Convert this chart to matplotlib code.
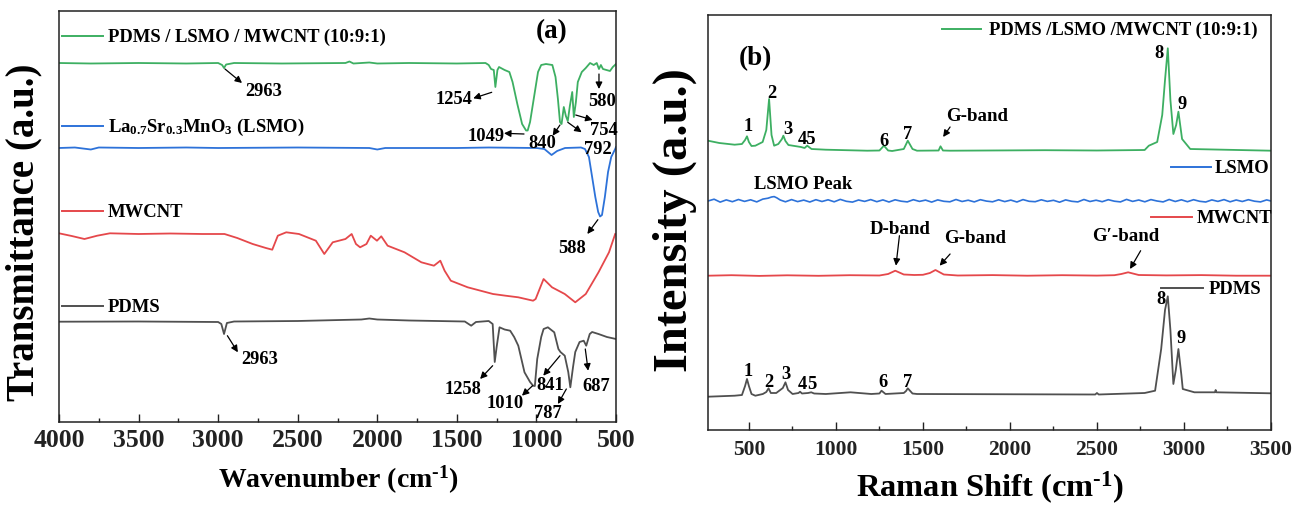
import matplotlib
matplotlib.use('Agg')
import matplotlib.pyplot as plt
from matplotlib.ticker import MultipleLocator

plt.rcParams['font.family'] = ['Liberation Serif', 'DejaVu Serif']
plt.rcParams['font.weight'] = 'bold'
plt.rcParams['mathtext.fontset'] = 'custom'
plt.rcParams['mathtext.rm'] = 'Liberation Serif:bold'
plt.rcParams['mathtext.bf'] = 'Liberation Serif:bold'
plt.rcParams['mathtext.it'] = 'Liberation Serif:bold'

# ---------------- data: panel (a) FTIR ----------------
ftir_comp_wn = [4000, 3800, 3500, 3200, 3000, 2975, 2963, 2950, 2900, 2600, 2200, 2175, 2150, 2050,
                2000, 1800, 1500, 1320, 1300, 1285, 1268, 1258, 1245, 1235, 1200, 1170, 1150, 1120,
                1090, 1065, 1055, 1040, 1010, 990, 970, 940, 900, 880, 865, 852, 842, 828, 815, 803,
                790, 775, 765, 752, 740, 715, 690, 663, 640, 621, 607, 595, 582, 560, 538, 520, 500]
ftir_comp_t = [359, 358.5, 359, 358.5, 359, 357, 354, 357.5, 359, 358.5, 359, 360.5, 358.5, 359.5,
               358.5, 359, 358.5, 359, 357, 353, 352, 335, 352, 355, 352, 350, 340, 318,
               298, 291.5, 291.5, 300, 330, 350, 357, 358, 357, 345, 323, 300, 298, 315, 306, 301,
               316, 330, 305, 320, 340, 350, 354, 359, 357, 359, 353, 357, 353, 352, 351, 355, 358]

ftir_lsmo_wn = [4000, 3900, 3800, 3750, 3500, 3200, 3000, 2500, 2050, 2000, 1950, 1500, 1300, 1000,
                950, 905, 870, 820, 720, 695, 670, 650, 630, 612, 600, 588, 570, 550, 530, 505, 500]
ftir_lsmo_t = [274, 274.5, 272.5, 274.5, 274, 274.5, 274, 274.5, 274, 272.5, 274, 274, 274.5, 274,
               273, 267, 271, 274, 274.5, 273, 265, 245, 225, 210, 205.5, 207, 225, 250, 265, 273, 275]

ftir_cnt_wn = [4000, 3920, 3840, 3760, 3680, 3500, 3300, 3100, 2960, 2880, 2783, 2700, 2660, 2625,
               2572, 2492, 2386, 2333, 2280, 2200, 2161, 2134, 2108, 2068, 2041, 2002, 1975, 1935,
               1829, 1723, 1644, 1604, 1577, 1538, 1432, 1273, 1194, 1114, 1021, 1005, 955, 902,
               822, 756, 690, 610, 544, 505]
ftir_cnt_t = [188.7, 186, 183, 186.3, 188.7, 188, 188.5, 188, 188, 184, 178, 174, 172.3, 186.3,
              189.7, 188, 181.3, 168, 179.7, 183, 188, 178, 174.7, 178, 186.3, 181.3, 185.7, 176.3,
              169.7, 159.7, 156.3, 161.3, 151.3, 141.3, 134.7, 128, 126.3, 124.7, 121.3, 123, 143, 134.7,
              128, 119.7, 128, 149.7, 169.7, 188]

ftir_pdms_wn = [4000, 3500, 3000, 2980, 2963, 2945, 2900, 2500, 2100, 2050, 2000, 1800, 1450, 1410,
                1380, 1300, 1275, 1262, 1250, 1232, 1200, 1165, 1140, 1114, 1075, 1040, 1021, 1010,
                995, 970, 955, 928, 888, 862, 849, 822, 800, 787, 770, 756, 729, 703, 687, 665, 650,
                610, 557, 500]
ftir_pdms_t = [100.3, 100.5, 100, 98, 88, 99, 100.5, 101, 102.5, 103.5, 102.5, 101.5, 100.5, 96.3,
               100, 101, 98, 60, 75, 94.7, 92.5, 91.3, 85, 76.3, 49.7, 40, 36.3, 36,
               63, 85, 93, 94.7, 89.7, 73, 70, 66.3, 50, 34.7, 55, 70, 80, 81.3, 76.3, 88, 90,
               88, 85, 83]

# ---------------- data: panel (b) Raman ----------------
raman_comp_x = [265, 330, 418, 460, 478, 489, 500, 515, 537, 579, 600, 616, 630, 645, 669, 690, 698,
                710, 727, 763, 799, 820, 835, 860, 942, 1180, 1250, 1276, 1300, 1323, 1390, 1413,
                1440, 1466, 1590, 1601, 1615, 1656, 2200, 2500, 2774, 2798, 2846, 2875, 2891, 2907,
                2922, 2939, 2955, 2968, 2989, 3036, 3500]
raman_comp_y = [289.3, 287, 285.3, 286, 290, 293.7, 288, 284, 284.3, 288, 300, 331, 295, 284.3, 286, 291,
                294.3, 289, 285, 284, 283, 282, 284.3, 281, 280.3, 279.3, 279.5, 284.3, 279.5, 279, 281,
                289.3, 281, 279.3, 279.5, 283.7, 279.5, 279.3, 279.8, 279.5, 280, 284.3, 288, 315, 350,
                381.7, 330, 296, 305, 318.3, 291, 281, 279.3]

raman_lsmo_x = [265, 300, 335, 370, 405, 440, 475, 510, 545, 580, 610, 630, 645, 660, 680, 710, 745,
                780, 815, 850, 885, 920, 955, 990, 1025, 1060, 1095, 1130, 1165, 1200, 1235, 1270,
                1305, 1340, 1375, 1410, 1445, 1480, 1515, 1550, 1585, 1620, 1655, 1690, 1725, 1760,
                1795, 1830, 1865, 1900, 1935, 1970, 2005, 2040, 2075, 2110, 2145, 2180, 2215, 2250,
                2285, 2320, 2355, 2390, 2425, 2460, 2495, 2530, 2565, 2600, 2635, 2670, 2705, 2740,
                2775, 2810, 2845, 2880, 2915, 2950, 2985, 3020, 3055, 3090, 3125, 3160, 3195, 3230,
                3265, 3300, 3335, 3370, 3405, 3440, 3475, 3500]
raman_lsmo_y = [229.0, 230.8, 227.9, 230.1, 228.3, 230.5, 228.6, 230.2, 228.1, 230.9, 231.8, 233.0,
                233.4, 232.2, 230.0, 228.2, 230.4, 228.4, 229.9, 228.0, 230.3, 228.5, 230.2, 228.2,
                230.6, 228.7, 227.9, 230.0, 228.6, 230.4, 228.3, 230.1, 228.0, 230.2, 228.8, 228.1,
                230.3, 228.6, 229.9, 227.9, 230.1, 228.7, 228.2, 230.5, 228.5, 229.8, 228.1, 230.3,
                228.9, 228.2, 230.2, 228.4, 229.9, 228.0, 230.4, 228.7, 228.3, 230.2, 228.6, 229.7,
                227.8, 230.1, 228.7, 228.1, 230.5, 228.5, 229.8, 228.3, 230.3, 228.8, 228.1, 230.6,
                228.6, 230.0, 228.2, 230.4, 229.0, 228.1, 230.5, 228.5, 230.2, 228.3, 230.3, 228.7,
                228.0, 230.1, 228.6, 230.4, 228.2, 230.0, 228.5, 230.3, 228.8, 228.1, 230.1, 229.0]

raman_cnt_x = [265, 400, 560, 720, 900, 1080, 1250, 1300, 1341, 1390, 1450, 1500, 1540, 1572, 1620,
               1700, 1900, 2100, 2300, 2500, 2600, 2640, 2679, 2740, 2900, 3100, 3300, 3500]
raman_cnt_y = [154.3, 154.8, 154.1, 154.7, 154.2, 154.8, 154.5, 156, 159.3, 155.5, 155, 155.2, 157,
               160, 155.5, 154.5, 154.9, 154.3, 154.8, 154.4, 154.8, 156, 157.7, 155, 154.6, 154.9,
               154.3, 154.3]

raman_pdms_x = [265, 418, 460, 478, 489, 500, 515, 537, 580, 600, 613, 626, 657, 695, 710, 725, 751,
                785, 794, 805, 840, 858, 875, 942, 1084, 1203, 1250, 1262, 1285, 1390, 1403, 1413,
                1440, 1466, 2490, 2500, 2510, 2774, 2834, 2869, 2891, 2907, 2922, 2939, 2953, 2968,
                2985, 2993, 3060, 3178, 3182, 3186, 3500]
raman_pdms_y = [33.3, 34.3, 35, 44, 51, 44, 36, 34.3, 36, 38, 41.7, 37, 37, 42, 47.7, 40, 36, 37,
                38.3, 36.5, 37, 37.7, 36.5, 36, 37.7, 36, 36.5, 39.3, 36, 37, 39, 41.7, 36.5, 36,
                35.5, 37, 35.5, 37, 39.3, 81, 120, 133.7, 100, 46, 60, 81, 55, 41, 37.7, 37.7, 40,
                37.7, 36.7]

ftir_ticks = [4000, 3500, 3000, 2500, 2000, 1500, 1000, 500]
raman_ticks = [500, 1000, 1500, 2000, 2500, 3000, 3500]

ftir_labels = ['PDMS / LSMO / MWCNT (10:9:1)', r'La$_{0.7}$Sr$_{0.3}$MnO$_3$ (LSMO)', 'MWCNT', 'PDMS']
raman_labels = ['PDMS /LSMO /MWCNT (10:9:1)', 'LSMO', 'MWCNT', 'PDMS']

# ---------------- styling ----------------
C_GREEN = '#3daf62'
C_BLUE = '#2d72d9'
C_RED = '#e5484b'
C_GRAY = '#505050'
W, H = 1309, 506

fig = plt.figure(figsize=(W / 100, H / 100), dpi=100)
axA = fig.add_axes([59 / W, 1 - 423 / H, 557 / W, 411 / H])
axB = fig.add_axes([708 / W, 1 - 431 / H, 563 / W, 415 / H])

for ax in (axA, axB):
    for s in ax.spines.values():
        s.set_linewidth(1.1)
        s.set_color('#222222')
    ax.set_yticks([])
    ax.xaxis.set_minor_locator(MultipleLocator(250))
    ax.tick_params(axis='x', which='major', direction='in', length=6, width=1, colors='#222222')
    ax.tick_params(axis='x', which='minor', direction='in', length=3, width=1, colors='#222222')

lw = 1.3
axA.plot(ftir_comp_wn, ftir_comp_t, color=C_GREEN, lw=lw)
axA.plot(ftir_lsmo_wn, ftir_lsmo_t, color=C_BLUE, lw=lw)
axA.plot(ftir_cnt_wn, ftir_cnt_t, color=C_RED, lw=lw)
axA.plot(ftir_pdms_wn, ftir_pdms_t, color=C_GRAY, lw=lw)
axA.set_xlim(4000, 500)
axA.set_ylim(0, 411)
axA.set_xticks(ftir_ticks)
axA.set_xticklabels([str(t) for t in ftir_ticks], fontsize=18.5, fontweight='bold')
axA.tick_params(axis='x', which='major', pad=4.5)

axB.plot(raman_comp_x, raman_comp_y, color=C_GREEN, lw=lw)
axB.plot(raman_lsmo_x, raman_lsmo_y, color=C_BLUE, lw=1.2)
axB.plot(raman_cnt_x, raman_cnt_y, color=C_RED, lw=lw)
axB.plot(raman_pdms_x, raman_pdms_y, color=C_GRAY, lw=lw)
axB.set_xlim(265, 3500)
axB.set_ylim(0, 415)
axB.set_xticks(raman_ticks)
axB.set_xticklabels([str(t) for t in raman_ticks], fontsize=15.5, fontweight='bold')
axB.tick_params(axis='x', which='major', pad=6.5)

# legends drawn as line + text (axes fraction)
colors = [C_GREEN, C_BLUE, C_RED, C_GRAY]
legA_y = [0.939, 0.720, 0.513, 0.282]
for lab, c, y in zip(ftir_labels, colors, legA_y):
    axA.plot([0.006, 0.079], [y, y], color=c, lw=1.4, transform=axA.transAxes, clip_on=False)
    axA.text(0.088, y, lab, transform=axA.transAxes, fontsize=13.4, fontweight='bold', va='center', ha='left')

legB = [(0.415, 0.485, 0.499, 0.966), (0.823, 0.893, 0.900, 0.633),
        (0.787, 0.860, 0.868, 0.513), (0.805, 0.879, 0.890, 0.342)]
for lab, c, (x0, x1, xt, y) in zip(raman_labels, colors, legB):
    axB.plot([x0, x1], [y, y], color=c, lw=1.4, transform=axB.transAxes, clip_on=False)
    axB.text(xt, y, lab, transform=axB.transAxes, fontsize=13.4, fontweight='bold', va='center', ha='left')

arrow_kw = dict(arrowstyle='-|>', color='black', lw=0.9, mutation_scale=10, shrinkA=0, shrinkB=0)
FS = 13.3

# panel (a) annotations: (label, text x, text y, tail x, tail y, head x, head y)
annA = [
    ('2963', 2712, 331, 2957, 353, 2850, 339),
    ('1254', 1515, 323, 1281, 329.7, 1397, 323.7),
    ('1049', 1318, 286.3, 1078, 288, 1204, 288.7),
    ('840', 962, 279, 852, 297, 898, 286.3),
    ('792', 616, 273.7, 803, 299.7, 716, 289.7),
    ('754', 575, 292.3, 753, 307, 647, 302),
    ('580', 590, 321.3, 607, 348, 607, 333),
    ('588', 773, 174.7, 614, 202.3, 680, 188),
    ('2963', 2738, 63.7, 2942, 86.3, 2876, 69.7),
    ('1258', 1460, 33.7, 1275, 56.3, 1354, 43),
    ('1010', 1195, 19, 1024, 36.3, 1091, 26.3),
    ('841', 913, 37, 852, 66.3, 957, 46.3),
    ('787', 931, 9.7, 812, 33, 865, 18),
    ('687', 627, 36.3, 693, 73, 675, 51.3),
]
for lab, tx, ty, ax0, ay0, ax1, ay1 in annA:
    axA.text(tx, ty, lab, fontsize=FS, fontweight='bold', ha='center', va='center', clip_on=False)
    axA.annotate('', xy=(ax1, ay1), xytext=(ax0, ay0), arrowprops=arrow_kw)
axA.text(905, 391.3, '(a)', fontsize=19.5, fontweight='bold', ha='center', va='center')

# panel (b) numbered peaks and bands
numB = [
    ('1', 494, 304.3), ('2', 632, 337.7), ('3', 727, 301.7), ('45', 834, 291.7),
    ('6', 1275, 289.3), ('7', 1413, 296), ('8', 2857, 377.7), ('9', 2989, 326),
    ('1', 494, 59.3), ('2', 616, 48.3), ('3', 715, 56), ('4', 805, 46.7), ('5', 863, 46),
    ('6', 1270, 48.3), ('7', 1413, 48.3), ('8', 2870, 131), ('9', 2983, 92.7),
    ('LSMO Peak', 811, 246),
]
for lab, tx, ty in numB:
    axB.text(tx, ty, lab, fontsize=FS, fontweight='bold', ha='center', va='center')

annB = [
    ('G-band', 1810, 314.3, 1656, 303, 1616, 293),
    ('D-band', 1368, 201.7, 1365, 194.3, 1345, 164.3),
    ('G-band', 1798, 192, 1656, 176, 1596, 164.3),
    ("G\u2032-band", 2667, 194.3, 2751, 179.3, 2690, 161),
]
for lab, tx, ty, ax0, ay0, ax1, ay1 in annB:
    axB.text(tx, ty, lab, fontsize=13.6, fontweight='bold', ha='center', va='center')
    axB.annotate('', xy=(ax1, ay1), xytext=(ax0, ay0), arrowprops=arrow_kw)
axB.text(535, 372.7, '(b)', fontsize=19.5, fontweight='bold', ha='center', va='center')

# axis labels
fig.text(338 / W, 1 - 480 / H, r'Wavenumber (cm$^{\text{-}1}$)', fontsize=20, fontweight='bold', ha='center', va='center')
fig.text(24 / W, 1 - 232 / H, 'Transmittance (a.u.)', fontsize=28, fontweight='bold', ha='center', va='center', rotation=90)
fig.text(990 / W, 1 - 488 / H, r'Raman Shift (cm$^{\text{-}1}$)', fontsize=23.4, fontweight='bold', ha='center', va='center')
fig.text(675 / W, 1 - 220 / H, 'Intensity (a.u.)', fontsize=35, fontweight='bold', ha='center', va='center', rotation=90)

fig.savefig('out.png', dpi=100)
